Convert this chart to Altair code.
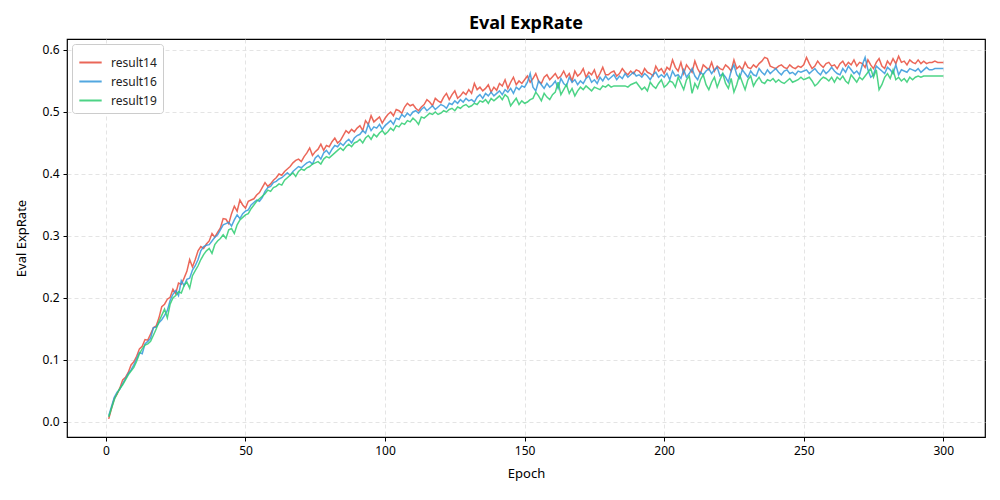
import altair as alt
import pandas as pd

series_names = ["result14", "result16", "result19"]
series_colors = ["#e74c3c", "#3498db", "#2ecc71"]

# values in thousandths, epochs 1..300
result14 = [
    5, 22, 38, 45, 55, 68, 72, 80, 92, 97,
    106, 118, 122, 133, 132, 142, 152, 155, 168, 186,
    190, 198, 201, 214, 207, 224, 222, 232, 243, 262,
    250, 262, 276, 283, 280, 287, 292, 304, 298, 306,
    313, 328, 327, 320, 336, 348, 340, 358, 350, 345,
    356, 358, 360, 366, 370, 378, 386, 380, 384, 390,
    394, 400, 398, 404, 408, 412, 418, 422, 424, 420,
    428, 434, 442, 430, 436, 440, 448, 438, 446, 444,
    452, 458, 450, 454, 462, 470, 466, 472, 468, 474,
    478, 470, 486, 480, 494, 484, 488, 492, 482, 490,
    496, 500, 494, 504, 502, 498, 508, 514, 510, 512,
    506, 502, 508, 512, 520, 516, 510, 522, 518, 515,
    524, 530, 520, 528, 534, 522, 526, 532, 528, 536,
    530, 546, 536, 540, 534, 538, 544, 532, 540, 535,
    546, 542, 552, 538, 548, 556, 544, 550, 546, 552,
    558, 548, 554, 562, 550, 546, 556, 560, 552, 557,
    562, 554, 558, 566, 556, 562, 550, 566, 558, 562,
    570, 556, 564, 560, 568, 554, 562, 572, 560, 560,
    564, 566, 558, 562, 570, 564, 560, 566, 562, 568,
    566, 560, 570, 564, 562, 558, 574, 566, 570, 562,
    572, 568, 584, 572, 566, 580, 562, 576, 570, 564,
    582, 570, 562, 576, 572, 568, 580, 566, 574, 570,
    568, 576, 572, 566, 584, 570, 574, 568, 580, 572,
    570, 576, 572, 578, 582, 588, 586, 574, 572, 570,
    574, 576, 572, 570, 576, 572, 570, 574, 572, 576,
    588, 578, 570, 574, 582, 576, 572, 578, 580, 574,
    576, 570, 578, 582, 574, 580, 576, 584, 574, 580,
    578, 572, 584, 576, 570, 580, 586, 574, 570, 582,
    576, 586, 578, 590, 580, 582, 576, 584, 580, 578,
    584, 578, 582, 578, 580, 580, 582, 580, 580, 580,
]

result16 = [
    10, 25, 40, 48, 53, 62, 70, 78, 84, 92,
    102, 112, 110, 126, 130, 135, 152, 153, 160, 165,
    172, 180, 196, 206, 212, 204, 228, 220, 230, 232,
    245, 252, 262, 276, 283, 285, 286, 292, 298, 302,
    310, 318, 320, 322, 316, 326, 334, 328, 336, 340,
    342, 350, 354, 358, 356, 362, 372, 378, 380, 386,
    388, 392, 394, 398, 402, 398, 404, 408, 412, 410,
    414, 418, 420, 416, 426, 430, 424, 434, 438, 432,
    440, 446, 444, 450, 446, 452, 456, 450, 458, 462,
    464, 470, 466, 480, 470, 476, 474, 480, 472, 478,
    482, 486, 480, 490, 488, 496, 492, 498, 494, 500,
    502, 498, 504, 508, 502, 506, 510, 504, 508, 512,
    510, 506, 514, 512, 518, 514, 520, 516, 522, 518,
    520, 516, 524, 528, 522, 530, 526, 532, 526, 530,
    534, 528, 536, 532, 538, 530, 540, 536, 542, 540,
    548, 562, 540, 534, 550, 544, 538, 546, 540, 544,
    550, 538, 554, 546, 542, 556, 548, 552, 544, 550,
    546, 554, 558, 548, 552, 546, 556, 550, 558, 552,
    556, 560, 552, 558, 554, 562, 556, 560, 564, 558,
    560, 556, 562, 558, 552, 560, 564, 556, 560, 556,
    562, 552, 566, 558, 560, 554, 568, 556, 562, 570,
    558, 552, 564, 560, 566, 570, 562, 568, 572, 558,
    562, 556, 548, 566, 576, 560, 554, 568, 562, 556,
    566, 560, 558, 570, 564, 560, 568, 562, 566, 570,
    564, 560, 566, 568, 562, 564, 560, 566, 564, 566,
    568, 562, 566, 570, 564, 560, 568, 562, 566, 572,
    566, 562, 560, 570, 564, 574, 568, 562, 566, 560,
    576, 588, 568, 556, 560, 574, 570, 566, 562, 572,
    568, 562, 576, 560, 568, 566, 564, 570, 568, 566,
    570, 564, 568, 572, 568, 568, 570, 570, 570, 570,
]

result19 = [
    8, 22, 36, 46, 54, 60, 68, 76, 82, 88,
    98, 110, 118, 124, 126, 130, 140, 150, 162, 172,
    182, 168, 190, 200, 204, 210, 208, 220, 226, 216,
    236, 244, 252, 262, 270, 276, 280, 272, 286, 292,
    296, 302, 296, 310, 312, 304, 318, 326, 330, 334,
    336, 344, 350, 356, 360, 364, 368, 374, 372, 378,
    380, 384, 382, 390, 394, 398, 402, 396, 404, 408,
    406, 410, 412, 416, 418, 420, 416, 424, 428, 426,
    430, 434, 438, 442, 438, 444, 448, 444, 450, 452,
    456, 450, 458, 462, 456, 464, 460, 466, 470, 464,
    468, 474, 470, 478, 476, 482, 480, 486, 484, 490,
    486, 480, 492, 490, 494, 498, 496, 500, 496, 498,
    502, 500, 504, 506, 502, 508, 506, 510, 512, 508,
    510, 514, 512, 518, 516, 520, 514, 522, 518, 522,
    526, 520, 528, 524, 510, 516, 522, 512, 518, 514,
    516, 520, 522, 532, 526, 518, 530, 524, 520, 528,
    532, 548, 528, 536, 544, 530, 538, 526, 534, 540,
    536, 542, 538, 534, 540, 538, 536, 542, 540, 544,
    540, 542, 542, 542, 542, 542, 540, 544, 546, 548,
    542, 536, 540, 534, 548, 542, 538, 546, 552, 540,
    544, 550, 548, 540, 556, 546, 536, 552, 558, 530,
    546, 538, 552, 560, 544, 536, 548, 556, 540, 552,
    562, 546, 538, 554, 532, 544, 560, 548, 536, 552,
    558, 542, 550, 556, 548, 546, 552, 550, 554, 548,
    552, 548, 546, 550, 554, 548, 550, 552, 556, 552,
    554, 556, 550, 542, 546, 552, 556, 554, 550, 556,
    548, 556, 552, 558, 550, 546, 560, 554, 548, 556,
    552, 558, 564, 570, 556, 568, 536, 544, 556, 562,
    554, 568, 552, 556, 550, 554, 548, 556, 552, 556,
    558, 556, 558, 558, 558, 558, 558, 558, 558, 558,
]

x_ticks = [0, 50, 100, 150, 200, 250, 300]
y_ticks = [0.0, 0.1, 0.2, 0.3, 0.4, 0.5, 0.6]

rows = []
for name, vals in zip(series_names, [result14, result16, result19]):
    for i, v in enumerate(vals):
        rows.append({"Epoch": i + 1, "value": v / 1000.0, "series": name})
df = pd.DataFrame(rows)

FONT = "Noto Sans"

chart = (
    alt.Chart(df)
    .mark_line(strokeWidth=1.5, opacity=0.85)
    .encode(
        x=alt.X(
            "Epoch:Q",
            scale=alt.Scale(domain=[-13.95, 314.95], nice=False, zero=False),
            axis=alt.Axis(values=x_ticks, title="Epoch", format="d"),
        ),
        y=alt.Y(
            "value:Q",
            scale=alt.Scale(domain=[-0.0242, 0.6177], nice=False, zero=False),
            axis=alt.Axis(values=y_ticks, title="Eval ExpRate", format=".1f"),
        ),
        color=alt.Color(
            "series:N",
            scale=alt.Scale(domain=series_names, range=series_colors),
            legend=alt.Legend(
                title=None,
                orient="top-left",
                offset=5,
                symbolType="stroke",
                symbolSize=500,
                symbolStrokeWidth=2,
                symbolOpacity=0.85,
                labelFontSize=12,
                labelFont=FONT,
                labelColor="#222222",
                labelOffset=8,
                rowPadding=-3,
                padding=6,
                fillColor="white",
                strokeColor="#cccccc",
                cornerRadius=3,
            ),
        ),
        order=alt.Order("Epoch:Q"),
    )
    .properties(
        width=918,
        height=398,
        title=alt.TitleParams("Eval ExpRate", fontSize=18, fontWeight="bold", font=FONT, offset=6, color="black"),
        autosize=alt.AutoSizeParams(type="none"),
        padding={"left": 59, "top": 31, "right": 7, "bottom": 55},
    )
    .configure_view(stroke="black", strokeWidth=1.2)
    .configure_axis(
        domain=False,
        grid=True,
        gridColor="#dddddd",
        gridDash=[4, 3],
        gridWidth=0.8,
        ticks=True,
        tickColor="black",
        tickSize=4,
        labelFont=FONT,
        labelFontSize=12,
        labelColor="black",
        titleFont=FONT,
        titleFontSize=13,
        titleFontWeight="normal",
        titleColor="black",
    )
    .configure_axisX(labelPadding=4, titlePadding=11)
    .configure_axisY(labelPadding=4, titlePadding=14)
)

chart.save("out.html", embed_options={"renderer": "svg", "actions": False})
